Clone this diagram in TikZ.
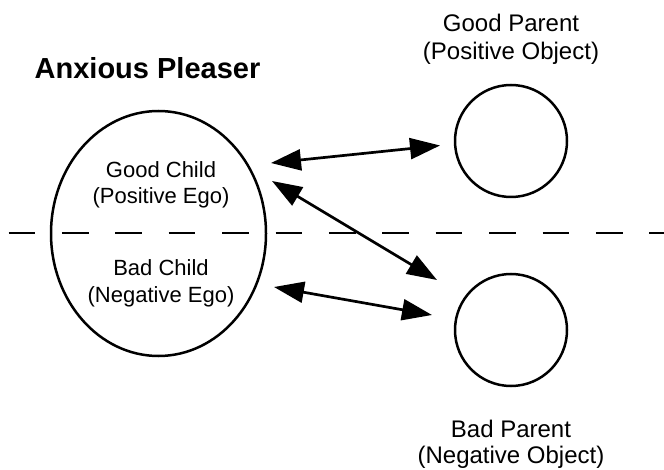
\documentclass[tikz,border=0pt]{standalone}
\usepackage{fontspec}
\setmainfont{Liberation Sans}
\usetikzlibrary{arrows.meta,shapes.geometric}
\tikzset{
  shapeline/.style={draw=black, line width=2.5pt},
  selfnode/.style={shapeline, ellipse, minimum width=215pt, minimum height=245pt, inner sep=0pt},
  objnode/.style={shapeline, circle, minimum size=112pt, inner sep=0pt},
  leftlbl/.style={anchor=base, inner sep=0pt, font=\fontsize{22}{26}\selectfont},
  rightlbl/.style={anchor=base, inner sep=0pt, font=\fontsize{24}{28}\selectfont},
  titlelbl/.style={anchor=base, inner sep=0pt, font=\bfseries\fontsize{29}{34}\selectfont},
  splitline/.style={line width=2.5pt, dash pattern=on 26.7pt off 26.7pt},
  relarrow/.style={line width=2.7pt, {Triangle[length=30pt,width=21pt]}-{Triangle[length=30pt,width=21pt]}}
}
\begin{document}
\begin{tikzpicture}[x=1pt,y=-1pt]
\useasboundingbox (0,0) rectangle (664,470);
% split line
\coordinate (dl) at (8.5,233);
\coordinate (dr) at (664,233);
\draw[splitline] (dl) -- (dr);
% shapes
\node[selfnode] (self) at (158.5,233.5) {};
\node[objnode] (gp) at (511,141) {};
\node[objnode] (bp) at (511,330) {};
% labels
\node[titlelbl] (title) at (147.5,79) {Anxious Pleaser};
\node[leftlbl] (gc1) at (161,178) {Good Child};
\node[leftlbl] (gc2) at (161,204) {(Positive Ego)};
\node[leftlbl] (bc1) at (161,276) {Bad Child};
\node[leftlbl] (bc2) at (161,303) {(Negative Ego)};
\node[rightlbl] (gp1) at (511,32) {Good Parent};
\node[rightlbl] (gp2) at (511,60) {(Positive Object)};
\node[rightlbl] (bp1) at (511,437) {Bad Parent};
\node[rightlbl] (bp2) at (511,463) {(Negative Object)};
% arrows
\coordinate (a1l) at (271,163);
\coordinate (a1r) at (440,145.5);
\coordinate (a2l) at (272,181);
\coordinate (a2r) at (437,280);
\coordinate (a3l) at (274,287);
\coordinate (a3r) at (432,315);
\draw[relarrow] (a1l) -- (a1r);
\draw[relarrow] (a2l) -- (a2r);
\draw[relarrow] (a3l) -- (a3r);
\end{tikzpicture}
\end{document}
